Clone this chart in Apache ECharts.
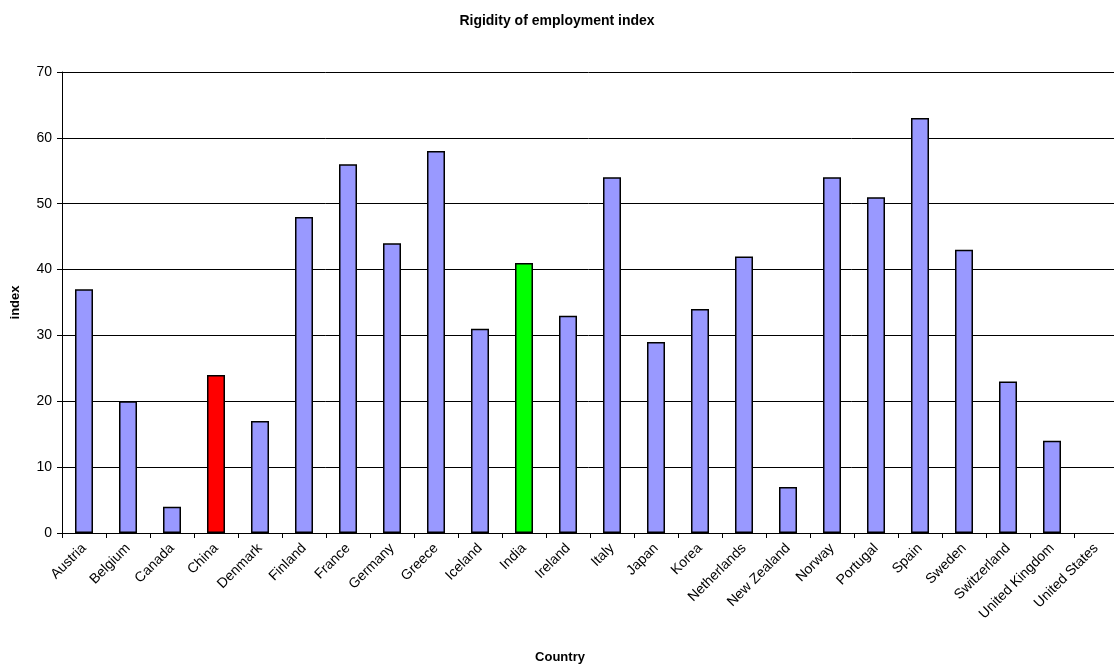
<!DOCTYPE html>
<html>
<head>
<meta charset="utf-8">
<script src="https://cdn.jsdelivr.net/npm/echarts@6/dist/echarts.min.js"></script>
<style>
  html, body { margin: 0; padding: 0; background: #fff; }
  #chart { width: 1114px; height: 671px; }
</style>
</head>
<body>
<div id="chart"></div>
<script>
const countries = ['Austria', 'Belgium', 'Canada', 'China', 'Denmark', 'Finland', 'France', 'Germany',
  'Greece', 'Iceland', 'India', 'Ireland', 'Italy', 'Japan', 'Korea', 'Netherlands', 'New Zealand',
  'Norway', 'Portugal', 'Spain', 'Sweden', 'Switzerland', 'United Kingdom', 'United States'];
const rigidity = [37, 20, 4, 24, 17, 48, 56, 44, 58, 31, 41, 33, 54, 29, 34, 42, 7, 54, 51, 63, 43, 23, 14, 0];
const highlight = { 'China': '#FF0000', 'India': '#00FF00' };
const baseColor = '#9999FF';

const chart = echarts.init(document.getElementById('chart'));
const font = 'Liberation Sans, Arial, sans-serif';

chart.setOption({
  animation: false,
  title: {
    text: 'Rigidity of employment index',
    left: 'center',
    top: 9,
    textStyle: { fontFamily: font, fontSize: 14, fontWeight: 'bold', color: '#000' }
  },
  grid: { left: 62, top: 72, width: 1056, height: 461, containLabel: false, outerBoundsMode: 'none' },
  xAxis: {
    type: 'category',
    data: countries,
    name: 'Country',
    nameLocation: 'middle',
    nameGap: 118,
    nameTextStyle: { fontFamily: font, fontSize: 13, fontWeight: 'bold', color: '#000', padding: [0, 0, 0, -60] },
    axisLine: { lineStyle: { color: '#000', width: 1 } },
    axisTick: { show: true, alignWithLabel: false, length: 5, lineStyle: { color: '#000' } },
    axisLabel: { interval: 0, rotate: 45, fontFamily: font, fontSize: 14, color: '#000', margin: 13 }
  },
  yAxis: {
    type: 'value',
    min: 0,
    max: 70,
    interval: 10,
    name: 'index',
    nameLocation: 'middle',
    nameGap: 40,
    nameRotate: 90,
    nameTextStyle: { fontFamily: font, fontSize: 13, fontWeight: 'bold', color: '#000' },
    axisLine: { show: true, lineStyle: { color: '#000', width: 1 } },
    axisTick: { show: true, length: 5, lineStyle: { color: '#000' } },
    axisLabel: { fontFamily: font, fontSize: 14, color: '#000', margin: 10 },
    splitLine: { show: true, lineStyle: { color: '#000', width: 1 } }
  },
  series: [{
    type: 'bar',
    barWidth: 18,
    data: rigidity.map((v, i) => ({
      value: v,
      itemStyle: {
        color: highlight[countries[i]] || baseColor,
        borderWidth: v === 0 ? 0 : 1.5
      }
    })),
    itemStyle: { borderColor: '#000', borderWidth: 1.5 }
  }]
});
</script>
</body>
</html>
